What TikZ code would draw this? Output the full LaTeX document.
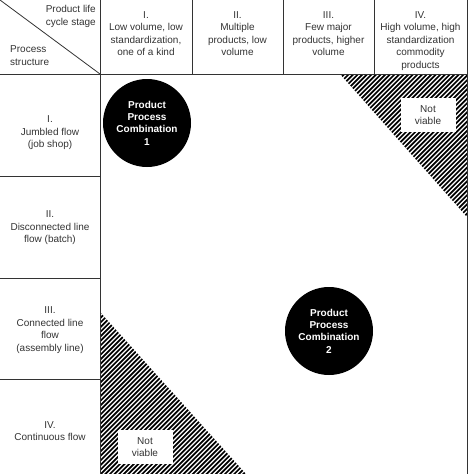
\documentclass[tikz,border=0pt]{standalone}
\usepackage{fontspec}
\setmainfont{Liberation Sans}
\usetikzlibrary{calc}

\begin{document}
\begin{tikzpicture}[x=1pt,y=-1pt]
	\tikzstyle{every node}=[font=\fontsize{10}{12.5}\selectfont, text=black!80, align=center, inner sep=0pt];
	\tikzstyle{grid}=[draw=black!80, line width=0.8pt];
	\tikzstyle{hatch}=[line width=1.7pt];
	\tikzstyle{combo}=[circle, fill=black, minimum size=88pt, text=white, font=\fontsize{10}{12.3}\selectfont\bfseries];
	\tikzstyle{gap}=[fill=white, minimum width=55pt, minimum height=34pt];
	\useasboundingbox (0,0) rectangle (474,474);
	\begin{scope}
		\clip (340,74) -- (467,74) -- (467,217) -- cycle;
		\foreach \k in {400,404.6,...,740} \draw[hatch] (\k,0) -- (\k-480,480);
	\end{scope}
	\begin{scope}
		\clip (100,312) -- (100,474) -- (246,474) -- cycle;
		\foreach \k in {400,404.6,...,740} \draw[hatch] (\k,0) -- (\k-480,480);
	\end{scope}
	\draw[grid] (0,0) -- (100,74);
	\draw[grid] (100,0) -- (100,474);
	\draw[grid] (467,0) -- (467,474);
	\draw[grid] (0,74) -- (467,74);
	\foreach \x in {192,283,374} \draw[grid] (\x,0) -- (\x,74);
	\foreach \y in {176,278,379} \draw[grid] (0,\y) -- (100,\y);
	\node [align=right, anchor=east] (life) at (96,16.5) {Product life\\cycle stage};
	\node [align=left, anchor=west] (proc) at (10,55.5) {Process\\structure};
	\node [anchor=north] (col1) at (146,11) {I.\\Low volume, low\\standardization,\\one of a kind};
	\node [anchor=north] (col2) at (237.5,11) {II.\\Multiple\\products, low\\volume};
	\node [anchor=north] (col3) at (328.5,11) {III.\\Few major\\products, higher\\volume};
	\node [anchor=north] (col4) at (420.5,11) {IV.\\High volume, high\\standardization\\commodity\\products};
	\node (row1) at (50,133) {I.\\Jumbled flow\\(job shop)};
	\node (row2) at (50,228) {II.\\Disconnected line\\flow (batch)};
	\node (row3) at (50,330) {III.\\Connected line\\flow\\(assembly line)};
	\node (row4) at (50,431) {IV.\\Continuous flow};
	\node [gap] (nv1) at (428,115) {Not\\viable};
	\node [gap] (nv2) at (145,447) {Not\\viable};
	\node [combo] (pc1) at (147,123) {Product\\Process\\Combination\\1};
	\node [combo] (pc2) at (329,331) {Product\\Process\\Combination\\2};
\end{tikzpicture}
\end{document}
